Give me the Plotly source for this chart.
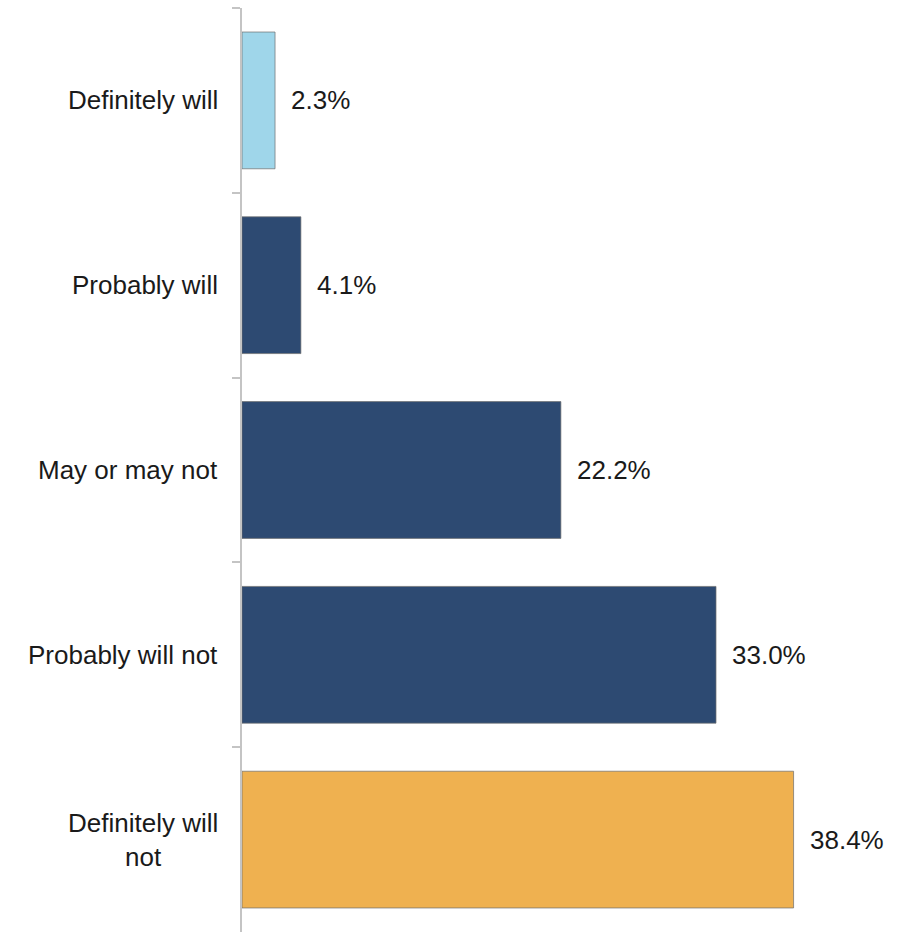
import plotly.graph_objects as go

categories = ["Definitely will", "Probably will", "May or may not",
              "Probably will not", "Definitely will not"]
label_text = ["Definitely will", "Probably will", "May or may not",
              "Probably will not", "Definitely will<br>not"]
values = [2.3, 4.1, 22.2, 33.0, 38.4]
colors = ["#9fd6ea", "#2d4a72", "#2d4a72", "#2d4a72", "#efb150"]

FONT = "Liberation Sans, Arial, sans-serif"

fig = go.Figure(
    go.Bar(
        x=values,
        y=categories,
        orientation="h",
        marker=dict(color=colors, line=dict(color="rgba(110,110,110,0.7)", width=1)),
        hoverinfo="skip",
    )
)

annotations = []
for cat, lab, val in zip(categories, label_text, values):
    # category name to the left of the axis
    annotations.append(dict(
        x=0, xref="paper", y=cat, yref="y", text=lab, showarrow=False,
        xanchor="right", yanchor="middle", align="center", xshift=-22,
        font=dict(family=FONT, size=26, color="#1a1a1a"),
    ))
    # value to the right of each bar
    annotations.append(dict(
        x=val, xref="x", y=cat, yref="y", text=f"{val:.1f}%", showarrow=False,
        xanchor="left", yanchor="middle", xshift=14,
        font=dict(family=FONT, size=26, color="#1a1a1a"),
    ))

fig.update_layout(
    width=897, height=934,
    margin=dict(l=242, r=0, t=8, b=2),
    plot_bgcolor="white", paper_bgcolor="white",
    bargap=0.26,
    showlegend=False,
    annotations=annotations,
    xaxis=dict(range=[0, 45.6], visible=False, fixedrange=True),
    yaxis=dict(
        autorange="reversed",
        showticklabels=False,
        showline=True, linecolor="#c4c4c4", linewidth=2,
        ticks="outside", tickson="boundaries", ticklen=8,
        tickcolor="#c4c4c4", tickwidth=2,
        showgrid=False, zeroline=False,
    ),
)

fig.write_html("out.html")
